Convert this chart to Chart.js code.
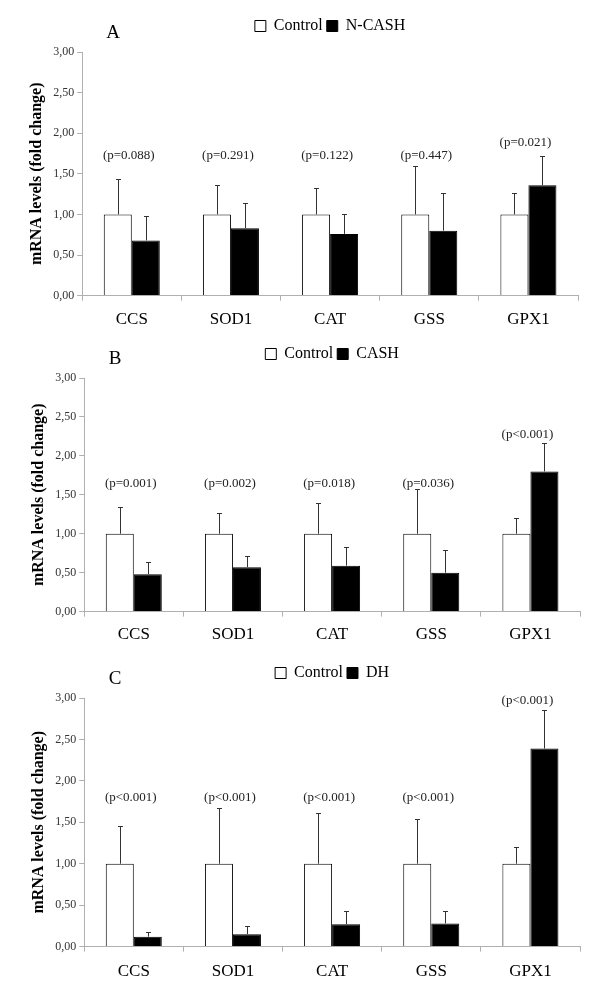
<!DOCTYPE html>
<html>
<head>
<meta charset="utf-8">
<script src="https://cdn.jsdelivr.net/npm/chart.js@4/dist/chart.umd.min.js"></script>
<style>
  body { margin: 0; background: #fff; }
  canvas { display: block; }
</style>
</head>
<body>
<canvas id="chartA" width="600" height="330"></canvas>
<canvas id="chartB" width="600" height="330"></canvas>
<canvas id="chartC" width="600" height="341"></canvas>
<script>
/* ---------- data ---------- */
const genes  = ["CCS", "SOD1", "CAT", "GSS", "GPX1"];
const yMin = 0, yMax = 3, yStep = 0.5;

// A: Control vs N-CASH
const ctrlA    = [1.00, 1.00, 1.00, 1.00, 1.00];
const ctrlSdA  = [0.44, 0.36, 0.32, 0.59, 0.26];
const ncashA   = [0.68, 0.83, 0.76, 0.80, 1.36];
const ncashSdA = [0.30, 0.31, 0.24, 0.46, 0.36];
const pTextA   = ["(p=0.088)", "(p=0.291)", "(p=0.122)", "(p=0.447)", "(p=0.021)"];
const pPosA    = [1.72, 1.72, 1.72, 1.72, 1.88];

// B: Control vs CASH
const ctrlB    = [1.00, 1.00, 1.00, 1.00, 1.00];
const ctrlSdB  = [0.34, 0.27, 0.40, 0.57, 0.20];
const cashB    = [0.48, 0.57, 0.59, 0.50, 1.80];
const cashSdB  = [0.16, 0.15, 0.24, 0.29, 0.36];
const pTextB   = ["(p=0.001)", "(p=0.002)", "(p=0.018)", "(p=0.036)", "(p<0.001)"];
const pPosB    = [1.65, 1.65, 1.65, 1.65, 2.27];

// C: Control vs DH
const ctrlC    = [1.00, 1.00, 1.00, 1.00, 1.00];
const ctrlSdC  = [0.45, 0.67, 0.61, 0.54, 0.20];
const dhC      = [0.12, 0.15, 0.27, 0.28, 2.39];
const dhSdC    = [0.055, 0.10, 0.155, 0.15, 0.47];
const pTextC   = ["(p<0.001)", "(p<0.001)", "(p<0.001)", "(p<0.001)", "(p<0.001)"];
const pPosC    = [1.80, 1.80, 1.80, 1.80, 2.97];

/* ---------- helpers ---------- */
const SERIF = '"Liberation Serif", "Times New Roman", serif';
const AXIS  = "#b0b0b0";

// error bars, p-value labels and panel letter
const extras = {
  id: "extras",
  beforeInit(chart, args, o) {
    const fit = chart.legend.fit;
    chart.legend.fit = function () {
      fit.bind(chart.legend)();
      this.height += o.legendExtra || 0;
    };
  },
  afterDatasetsDraw(chart, args, o) {
    const { ctx, chartArea, scales: { x, y } } = chart;
    ctx.save();
    ctx.strokeStyle = "#333";
    ctx.lineWidth = 1;
    chart.data.datasets.forEach((ds, di) => {
      chart.getDatasetMeta(di).data.forEach((bar, i) => {
        const top = Math.round(y.getPixelForValue(ds.data[i] + o.sd[di][i])) + 0.5;
        const xc  = Math.round(bar.x) + 0.5;
        ctx.beginPath();
        ctx.moveTo(xc, bar.y);
        ctx.lineTo(xc, top);
        ctx.moveTo(xc - 2.5, top);
        ctx.lineTo(xc + 2.5, top);
        ctx.stroke();
      });
    });

    ctx.fillStyle = "#222";
    ctx.font = "13px " + SERIF;
    ctx.textAlign = "center";
    ctx.textBaseline = "middle";
    o.pText.forEach((t, i) => {
      ctx.fillText(t, x.getPixelForValue(i) - 3, y.getPixelForValue(o.pPos[i]));
    });

    ctx.fillStyle = "#000";
    ctx.font = "19px " + SERIF;
    ctx.fillText(o.letter, chartArea.left + 31, chartArea.top - 19);
    ctx.restore();
  }
};

function makePanel(id, treatName, ctrl, ctrlSd, treat, treatSd, pText, pPos, lay) {
  return new Chart(document.getElementById(id), {
    type: "bar",
    data: {
      labels: genes,
      datasets: [
        { label: "Control", data: ctrl, backgroundColor: "#fff",
          borderColor: "#000", borderWidth: 1 },
        { label: treatName, data: treat, backgroundColor: "#000",
          borderColor: "#000", borderWidth: 1 }
      ]
    },
    options: {
      responsive: false,
      animation: false,
      datasets: { bar: { categoryPercentage: 0.565, barPercentage: 1 } },
      layout: { padding: lay.padding },
      plugins: {
        legend: {
          position: "top", fullSize: false,
          labels: { boxWidth: 11, boxHeight: 11, padding: 4, color: "#000",
                    font: { family: SERIF, size: 16 } }
        },
        tooltip: { enabled: false },
        extras: { sd: [ctrlSd, treatSd], pText, pPos, letter: lay.letter,
                  legendExtra: lay.legendExtra }
      },
      scales: {
        x: {
          grid: { drawOnChartArea: false, tickLength: 5, color: AXIS },
          border: { color: AXIS },
          ticks: { color: "#000", padding: lay.xPad, font: { family: SERIF, size: 17 } }
        },
        y: {
          min: yMin, max: yMax,
          grid: { drawOnChartArea: false, tickLength: 5, color: AXIS },
          border: { color: AXIS },
          ticks: { stepSize: yStep, color: "#333", padding: 3,
                   font: { family: SERIF, size: 12 },
                   callback: v => v.toFixed(2).replace(".", ",") },
          title: { display: true, text: "mRNA levels (fold change)", color: "#000",
                   font: { family: SERIF, size: 16, weight: "bold" } }
        }
      }
    },
    plugins: [extras]
  });
}

makePanel("chartA", "N-CASH", ctrlA, ctrlSdA, ncashA, ncashSdA, pTextA, pPosA,
  { letter: "A", legendExtra: 8, xPad: 9,
    padding: { top: 14, left: 23, right: 22, bottom: -9 } });
makePanel("chartB", "CASH", ctrlB, ctrlSdB, cashB, cashSdB, pTextB, pPosB,
  { letter: "B", legendExtra: 6, xPad: 8,
    padding: { top: 12, left: 25, right: 20, bottom: 7 } });
makePanel("chartC", "DH", ctrlC, ctrlSdC, dhC, dhSdC, pTextC, pPosC,
  { letter: "C", legendExtra: 7, xPad: 10,
    padding: { top: 1, left: 25, right: 20, bottom: 9 } });
</script>
</body>
</html>
